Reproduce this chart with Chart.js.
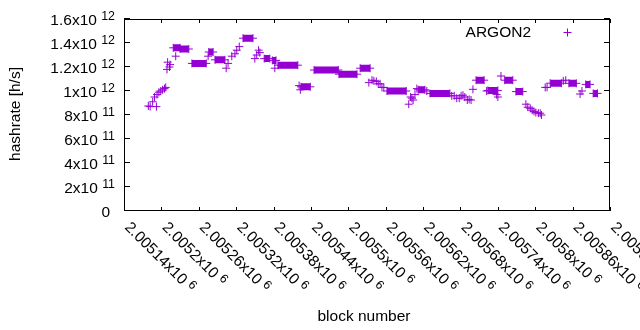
<!DOCTYPE html>
<html>
<head>
<meta charset="utf-8">
<script src="https://cdn.jsdelivr.net/npm/chart.js@4/dist/chart.umd.min.js"></script>
<style>
  html, body { margin: 0; padding: 0; background: #fff; }
</style>
</head>
<body>
<canvas id="hashrate-chart" width="640" height="330"></canvas>
<script>
// ------------------------------------------------------------
// ARGON2 hashrate per block (gnuplot look)
// ------------------------------------------------------------

const SERIES_LABEL = 'ARGON2';
const SERIES_COLOR = '#9400d3';
const FONT = "'Liberation Sans', Arial, sans-serif";

// axis ticks
const xTicks = [2005140, 2005200, 2005260, 2005320, 2005380, 2005440, 2005500,
                2005560, 2005620, 2005680, 2005740, 2005800, 2005860, 2005920];
const xTickMant = ['2.00514', '2.0052', '2.00526', '2.00532', '2.00538', '2.00544', '2.0055',
                   '2.00556', '2.00562', '2.00568', '2.00574', '2.0058', '2.00586', '2.00592'];
const xTickExp = '6';
const yTicks = [0, 2e11, 4e11, 6e11, 8e11, 1e12, 1.2e12, 1.4e12, 1.6e12];
const yTickMant = ['0', '2', '4', '6', '8', '1', '1.2', '1.4', '1.6'];
const yTickExp = ['', '11', '11', '11', '11', '12', '12', '12', '12'];

// stretches where the hashrate stayed flat (first block, last block, h/s)
const runStart = [2005219, 2005230, 2005249, 2005276, 2005286, 2005331, 2005365, 2005378,
                  2005387, 2005424, 2005445, 2005485, 2005519, 2005562, 2005612, 2005631,
                  2005705, 2005724, 2005751, 2005769, 2005824, 2005854, 2005881, 2005893];
const runEnd   = [2005230, 2005244, 2005272, 2005283, 2005302, 2005347, 2005374, 2005384,
                  2005419, 2005439, 2005484, 2005514, 2005535, 2005593, 2005623, 2005663,
                  2005718, 2005740, 2005764, 2005780, 2005842, 2005866, 2005888, 2005900];
const runValue = [1.36e12, 1.35e12, 1.23e12, 1.325e12, 1.26e12, 1.44e12, 1.27e12, 1.255e12,
                  1.215e12, 1.035e12, 1.175e12, 1.14e12, 1.19e12, 1.0e12, 1.01e12, 0.98e12,
                  1.09e12, 1.005e12, 1.09e12, 0.995e12, 1.065e12, 1.064e12, 1.055e12, 0.98e12];

// single samples
const pointBlock = [2005179, 2005182, 2005186, 2005189, 2005192, 2005193, 2005196, 2005199,
                    2005202, 2005205, 2005207, 2005209, 2005210, 2005213, 2005214, 2005223,
                    2005275, 2005304, 2005307, 2005313, 2005318, 2005321, 2005325, 2005350,
                    2005353, 2005356, 2005358, 2005382, 2005421, 2005423, 2005533, 2005538,
                    2005541, 2005545, 2005548, 2005551, 2005554, 2005557, 2005597, 2005600,
                    2005602, 2005604, 2005607, 2005610, 2005626, 2005666, 2005670, 2005674,
                    2005678, 2005681, 2005684, 2005687, 2005691, 2005694, 2005697, 2005700,
                    2005722, 2005738, 2005740, 2005745, 2005785, 2005788, 2005792, 2005795,
                    2005798, 2005801, 2005805, 2005808, 2005810, 2005816, 2005819, 2005845,
                    2005849, 2005872, 2005875];
const pointValue = [8.75e11, 8.7e11, 9.1e11, 9.5e11, 8.7e11, 9.7e11, 9.9e11, 1.0e12,
                    1.01e12, 1.02e12, 1.03e12, 1.18e12, 1.24e12, 1.2e12, 1.22e12, 1.29e12,
                    1.29e12, 1.19e12, 1.23e12, 1.29e12, 1.31e12, 1.34e12, 1.37e12, 1.27e12,
                    1.3e12, 1.34e12, 1.32e12, 1.19e12, 1.045e12, 1.01e12, 1.07e12, 1.09e12,
                    1.085e12, 1.08e12, 1.06e12, 1.06e12, 1.03e12, 1.03e12, 8.9e11, 9.5e11,
                    9.4e11, 9.25e11, 9.7e11, 1.02e12, 1.0e12, 9.6e11, 9.6e11, 9.4e11,
                    9.4e11, 9.6e11, 9.65e11, 9.5e11, 9.25e11, 9.3e11, 9.25e11, 1.014e12,
                    1.0e12, 9.7e11, 9.5e11, 1.125e12, 8.9e11, 8.65e11, 8.55e11, 8.4e11,
                    8.3e11, 8.2e11, 8.15e11, 8.15e11, 8.0e11, 1.03e12, 1.03e12, 1.085e12,
                    1.09e12, 9.75e11, 1.0e12];

// crosses: every single sample plus both ends of each flat stretch
const crossData = pointBlock.map((b, i) => ({ x: b, y: pointValue[i] }));
runStart.forEach((b, i) => {
  crossData.push({ x: b, y: runValue[i] });
  crossData.push({ x: runEnd[i], y: runValue[i] });
});

// flat stretches: one thick segment each, broken by null gaps
const runData = [];
runStart.forEach((b, i) => {
  runData.push({ x: b, y: runValue[i] });
  runData.push({ x: runEnd[i], y: runValue[i] });
  runData.push({ x: runEnd[i], y: null });
});

// text with a gnuplot style superscript, drawn from (x, y) to the right
function drawPow(ctx, mant, exp, x, y) {
  ctx.font = '15.5px ' + FONT;
  ctx.fillText(mant, x, y);
  if (!exp) return;
  const w = ctx.measureText(mant + ' ').width;
  ctx.font = '12.4px ' + FONT;
  ctx.fillText(exp, x + w, y - 4.5);
}

function powWidth(ctx, mant, exp) {
  ctx.font = '15.5px ' + FONT;
  let w = ctx.measureText(exp ? mant + ' ' : mant).width;
  if (exp) {
    ctx.font = '12.4px ' + FONT;
    w += ctx.measureText(exp).width;
  }
  return w;
}

const gnuplotFrame = {
  id: 'gnuplotFrame',
  afterDraw(chart) {
    const ctx = chart.ctx;
    const a = chart.chartArea;
    const xs = chart.scales.x;
    const ys = chart.scales.y;

    ctx.save();
    ctx.strokeStyle = '#000';
    ctx.lineWidth = 1;
    ctx.strokeRect(a.left + 0.5, a.top + 0.5, a.right - a.left - 1, a.bottom - a.top - 1);

    // tick marks, mirrored on both sides
    ctx.beginPath();
    yTicks.forEach(v => {
      const py = Math.round(ys.getPixelForValue(v)) - 0.5;
      ctx.moveTo(a.left, py); ctx.lineTo(a.left + 6, py);
      ctx.moveTo(a.right, py); ctx.lineTo(a.right - 6, py);
    });
    xTicks.forEach(v => {
      const px = Math.round(xs.getPixelForValue(v)) + 0.5;
      ctx.moveTo(px, a.bottom); ctx.lineTo(px, a.bottom - 4);
      ctx.moveTo(px, a.top); ctx.lineTo(px, a.top + 4);
    });
    ctx.stroke();

    ctx.fillStyle = '#000';
    ctx.textBaseline = 'alphabetic';
    ctx.textAlign = 'left';

    // y tick labels, right aligned
    yTicks.forEach((v, i) => {
      const py = ys.getPixelForValue(v);
      const mant = yTickExp[i] ? yTickMant[i] + 'x10' : yTickMant[i];
      const right = yTickExp[i] ? 115 : 110;
      const w = powWidth(ctx, mant, yTickExp[i]);
      drawPow(ctx, mant, yTickExp[i], right - w, py + 5.5);
    });

    // x tick labels, rotated by -45 (gnuplot sense)
    xTicks.forEach((v, i) => {
      const px = xs.getPixelForValue(v);
      ctx.save();
      ctx.translate(px, 228);
      ctx.rotate(Math.PI / 4);
      drawPow(ctx, xTickMant[i] + 'x10', xTickExp, 0, 0);
      ctx.restore();
    });

    // axis titles
    ctx.font = '15.5px ' + FONT;
    ctx.textAlign = 'center';
    ctx.fillText('block number', 364, 321);
    ctx.save();
    ctx.translate(20, 114);
    ctx.rotate(-Math.PI / 2);
    ctx.fillText('hashrate [h/s]', 0, 0);
    ctx.restore();

    // key
    ctx.textAlign = 'right';
    ctx.fillText(SERIES_LABEL, 531, 37);
    ctx.strokeStyle = SERIES_COLOR;
    ctx.beginPath();
    ctx.moveTo(563.5, 32.5); ctx.lineTo(571.5, 32.5);
    ctx.moveTo(567.5, 28.5); ctx.lineTo(567.5, 36.5);
    ctx.stroke();

    ctx.restore();
  }
};

new Chart(document.getElementById('hashrate-chart').getContext('2d'), {
  type: 'scatter',
  data: {
    datasets: [
      {
        label: SERIES_LABEL,
        data: crossData,
        pointStyle: 'cross',
        pointRadius: 4,
        pointBorderWidth: 1,
        borderColor: SERIES_COLOR,
        backgroundColor: SERIES_COLOR,
        showLine: false
      },
      {
        label: SERIES_LABEL + ' runs',
        data: runData,
        showLine: true,
        spanGaps: false,
        borderColor: SERIES_COLOR,
        borderWidth: 7,
        borderCapStyle: 'butt',
        pointRadius: 0,
        pointHoverRadius: 0
      }
    ]
  },
  options: {
    responsive: false,
    devicePixelRatio: 1,
    animation: false,
    layout: {
      padding: { left: 124, right: 30, top: 19, bottom: 119 }
    },
    plugins: {
      legend: { display: false },
      tooltip: { enabled: false }
    },
    scales: {
      x: { type: 'linear', min: 2005140, max: 2005920, display: false },
      y: { type: 'linear', min: 0, max: 1.6e12, display: false }
    }
  },
  plugins: [gnuplotFrame]
});
</script>
</body>
</html>
